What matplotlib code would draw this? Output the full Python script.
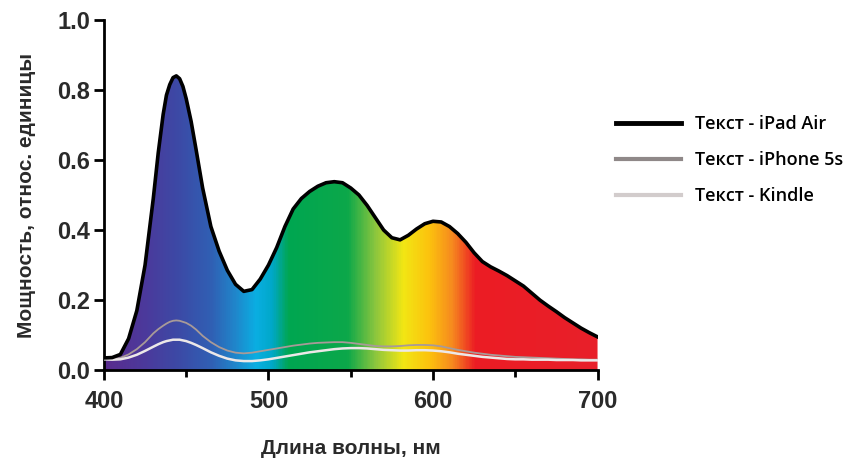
import numpy as np
import matplotlib
matplotlib.use("Agg")
import matplotlib.pyplot as plt
from matplotlib.colors import LinearSegmentedColormap
from matplotlib.lines import Line2D

# wavelength grid (nm) and relative power
wl = [400, 405, 410, 415, 420, 425, 430, 433, 436, 438, 440, 442, 444, 446, 448,
      450, 453, 456, 460, 465, 470, 475, 480, 485, 490, 495, 500, 505, 510, 515,
      520, 525, 530, 535, 540, 545, 550, 555, 560, 565, 570, 575, 580, 585, 590,
      595, 600, 605, 610, 615, 620, 625, 630, 635, 640, 645, 650, 655, 660, 665,
      670, 675, 680, 685, 690, 695, 700]

ipad_air = [0.035, 0.036, 0.045, 0.09, 0.17, 0.30, 0.49, 0.62, 0.73, 0.785,
            0.815, 0.835, 0.84, 0.832, 0.81, 0.775, 0.71, 0.63, 0.52, 0.41, 0.34,
            0.285, 0.245, 0.225, 0.23, 0.26, 0.30, 0.35, 0.41, 0.46, 0.49, 0.51,
            0.525, 0.535, 0.538, 0.535, 0.52, 0.50, 0.47, 0.435, 0.40, 0.378,
            0.372, 0.385, 0.403, 0.418, 0.425, 0.423, 0.41, 0.39, 0.365, 0.335,
            0.31, 0.295, 0.283, 0.27, 0.255, 0.24, 0.22, 0.20, 0.183, 0.167, 0.15,
            0.135, 0.12, 0.107, 0.095]

iphone_5s = [0.034, 0.033, 0.035, 0.045, 0.06, 0.08, 0.105, 0.117, 0.127, 0.133,
             0.138, 0.141, 0.142, 0.141, 0.138, 0.135, 0.127, 0.116, 0.098, 0.08,
             0.066, 0.056, 0.05, 0.048, 0.05, 0.054, 0.058, 0.062, 0.066, 0.07,
             0.073, 0.076, 0.078, 0.079, 0.08, 0.08, 0.078, 0.075, 0.072, 0.069,
             0.068, 0.068, 0.069, 0.071, 0.072, 0.072, 0.071, 0.068, 0.063, 0.058,
             0.054, 0.05, 0.047, 0.044, 0.042, 0.04, 0.038, 0.037, 0.036, 0.035,
             0.034, 0.033, 0.032, 0.031, 0.031, 0.03, 0.03]

kindle = [0.031, 0.03, 0.031, 0.036, 0.044, 0.055, 0.067, 0.074, 0.080, 0.083,
          0.085, 0.087, 0.087, 0.087, 0.085, 0.083, 0.078, 0.072, 0.063, 0.051,
          0.041, 0.033, 0.028, 0.026, 0.026, 0.028, 0.031, 0.035, 0.039, 0.043,
          0.047, 0.051, 0.054, 0.057, 0.06, 0.062, 0.063, 0.063, 0.062, 0.06,
          0.058, 0.057, 0.056, 0.056, 0.057, 0.057, 0.056, 0.054, 0.051, 0.047,
          0.044, 0.041, 0.038, 0.036, 0.034, 0.032, 0.031, 0.031, 0.03, 0.03,
          0.03, 0.029, 0.029, 0.029, 0.028, 0.028, 0.028]

labels = ["Текст - iPad Air", "Текст - iPhone 5s", "Текст - Kindle"]

# spectrum colour stops (wavelength, colour) for the fill
spectrum = [(400, "#5a2c8e"), (425, "#4b3a9c"), (445, "#3c4aa6"), (465, "#3060b4"),
            (480, "#1f88cc"), (492, "#0aaee2"), (502, "#00a8c8"), (512, "#00a651"),
            (548, "#0ca84a"), (565, "#8cc63e"), (582, "#f2e614"), (598, "#fcc20e"),
            (612, "#f6891f"), (626, "#ec1c24"), (700, "#e8202a")]

fig = plt.figure(figsize=(8.66, 4.61), dpi=100)
ax = fig.add_axes([0.12, 0.197, 0.57, 0.76])

stops = [((w - 400) / 300.0, c) for w, c in spectrum]
cmap = LinearSegmentedColormap.from_list("spec", stops)
grad = np.linspace(0, 1, 600).reshape(1, -1)
im = ax.imshow(grad, cmap=cmap, aspect="auto", extent=[400, 700, 0, 1],
               origin="lower", zorder=1)
poly = ax.fill_between(wl, ipad_air, 0, color="none", lw=0)
im.set_clip_path(poly.get_paths()[0], transform=ax.transData)

ax.plot(wl, ipad_air, color="black", lw=2.6, zorder=4, solid_joinstyle="round")
ax.plot(wl, iphone_5s, color="#a89a98", lw=1.3, zorder=3)
ax.plot(wl, kindle, color="#ece8e8", lw=1.8, zorder=3)

ax.set_xlim(400, 700)
ax.set_ylim(0, 1.0)
ax.set_xticks([400, 500, 600, 700])
ax.set_xticks([450, 550, 650], minor=True)
ax.set_yticks([0, 0.2, 0.4, 0.6, 0.8, 1.0])
ax.set_yticklabels(["0.0", "0.2", "0.4", "0.6", "0.8", "1.0"])

for s in ["top", "right"]:
    ax.spines[s].set_visible(False)
for s in ["left", "bottom"]:
    ax.spines[s].set_linewidth(2.0)
ax.tick_params(which="major", length=7, width=2.0, direction="out")
ax.tick_params(which="minor", length=5, width=2.0, direction="out")
ax.tick_params(axis="x", pad=7)
ax.tick_params(axis="y", pad=3)

for lab in ax.get_xticklabels() + ax.get_yticklabels():
    lab.set_fontfamily("Liberation Sans")
    lab.set_fontweight("bold")
    lab.set_fontsize(17)
    lab.set_color("#2a2a2a")

ax.set_xlabel("Длина волны, нм", fontfamily="Liberation Sans", fontweight="bold",
              fontsize=15, color="#2a2a2a", labelpad=19)
ax.set_ylabel("Мощность, относ. единицы", fontfamily="Liberation Sans",
              fontweight="bold", fontsize=15, color="#2a2a2a", labelpad=15)

handles = [Line2D([], [], color="black", lw=3.5),
           Line2D([], [], color="#8f8888", lw=3.0),
           Line2D([], [], color="#d2cccc", lw=3.0)]
fig.legend(handles, labels, loc="upper left", bbox_to_anchor=(0.693, 0.785),
           frameon=False, handlelength=3.6, handletextpad=0.75, labelspacing=1.0,
           prop={"family": "Open Sans", "weight": "semibold", "size": 13})

fig.savefig("out.png", dpi=100)
